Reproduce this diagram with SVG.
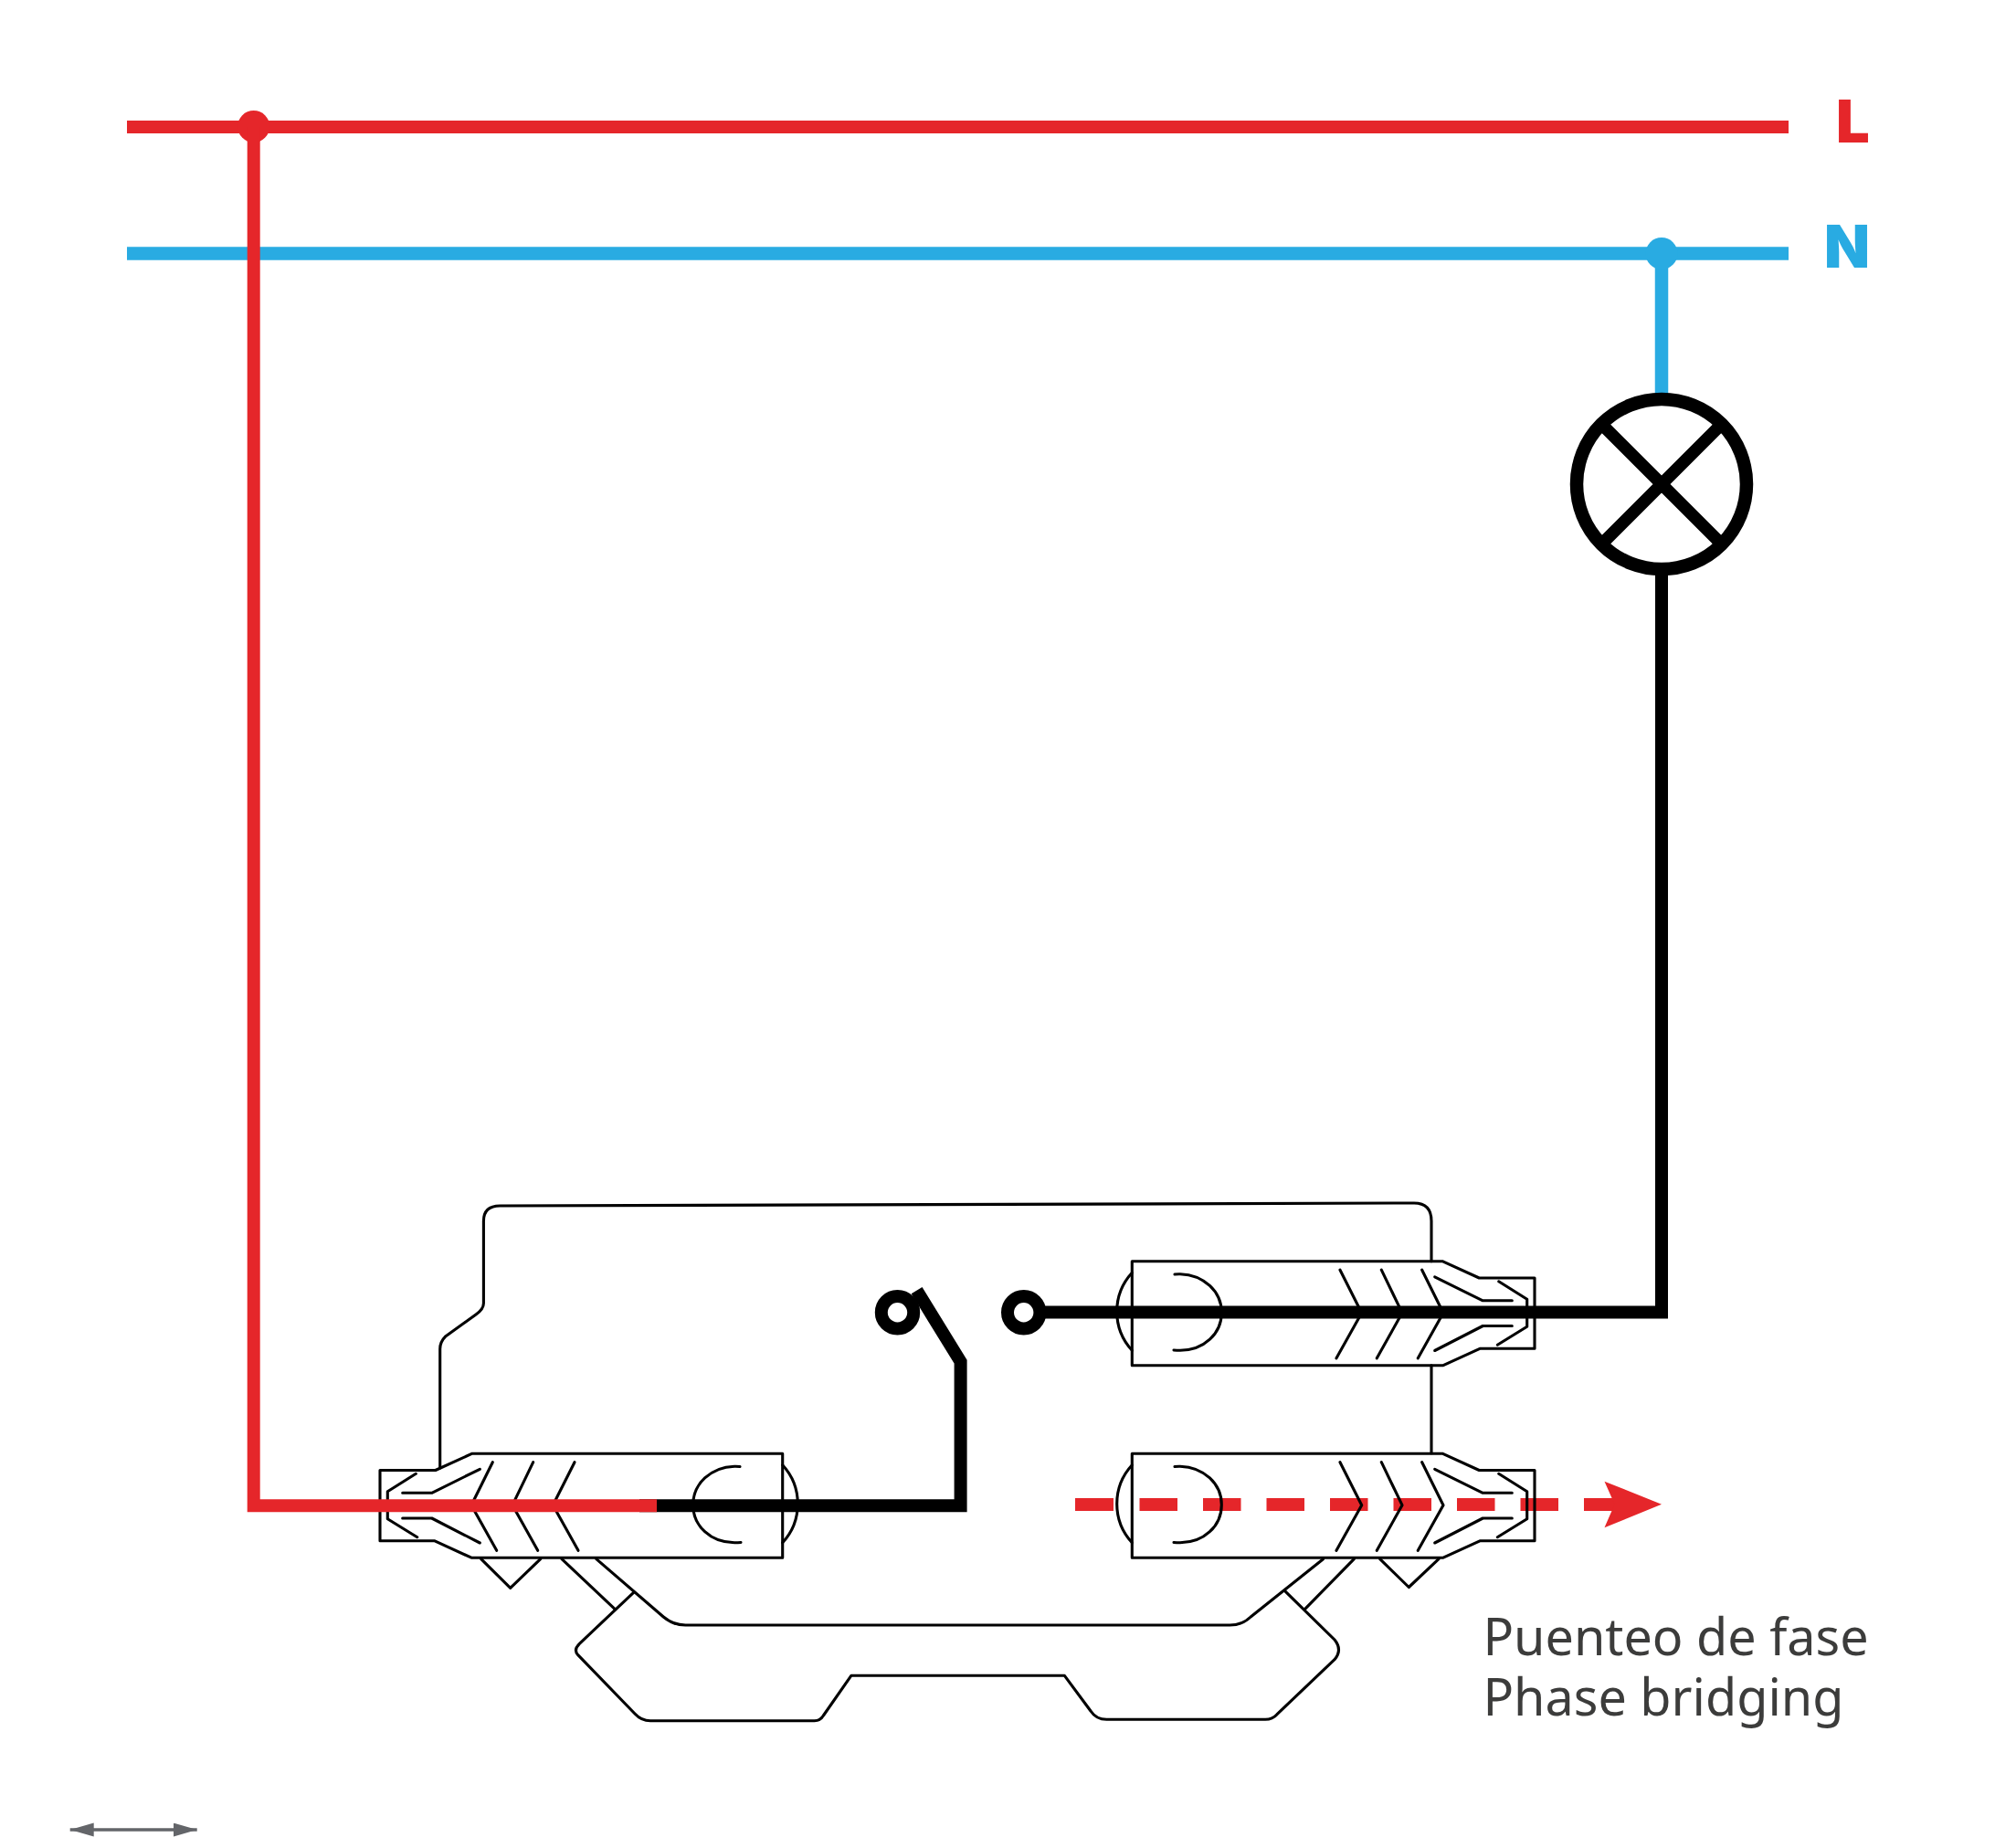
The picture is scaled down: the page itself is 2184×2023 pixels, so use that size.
<svg xmlns="http://www.w3.org/2000/svg" xmlns:xlink="http://www.w3.org/1999/xlink" width="2184" height="2023" viewBox="0 0 2184 2023">
<style>
.thin{fill:none;stroke:#000;stroke-width:3.1;stroke-linecap:round;stroke-linejoin:round}
.red{fill:none;stroke:#e5262a;stroke-width:14}
.blue{fill:none;stroke:#29abe2;stroke-width:14.5}
.blk{fill:none;stroke:#000;stroke-width:14}
.lab{font-family:"Inter","Liberation Sans",sans-serif;font-weight:900;font-size:65px}
.cap{font-family:"Noto Sans","Open Sans",sans-serif;font-size:55.7px;fill:#3c3c3b}
</style>
<defs>
<g id="terminal">
<path class="thin" d="M1239.3 1393.3A62.7 62.7 0 0 0 1239.3 1478.3"/>
<path class="thin" d="M1239.3 1380.7H1579L1619.3 1399H1680V1476.3H1620L1580 1494.7H1239.3Z"/>
<path class="thin" d="M1286 1395Q1289 1394.6 1292 1394.7C1318 1395.5 1337.3 1414 1337.3 1436.7C1337.3 1460 1318 1478.3 1292 1478.3Q1288 1478.3 1285 1478"/>
<path class="thin" d="M1467 1390.2L1490.7 1437.2L1463 1486.8M1512.3 1390.2L1535 1437.2L1507.3 1486.8M1556.7 1390.2L1580 1437.2L1552.3 1486.8"/>
<path class="thin" d="M1570.7 1397.8L1623.3 1423.8H1655.3M1570.7 1478.5L1623.3 1451.5H1655.3M1640.7 1402.8L1671.7 1422.2V1452.2L1639.3 1472.2"/>
</g>
<marker id="hd" markerUnits="userSpaceOnUse" markerWidth="28" markerHeight="16" refX="26" refY="7.5" orient="auto-start-reverse"><path d="M0 0L26 7.5L0 15Z" fill="#636569"/></marker>
</defs>
<rect width="2184" height="2023" fill="#fff"/>
<g id="switch-casing">
<path class="thin" d="M481.7 1607V1476.7Q481.7 1469 488 1462.7L521 1439Q529.4 1433 529.4 1426.7V1336.7Q529.4 1320 547.3 1320L1548 1317Q1567 1317 1567 1336.7V1380.7M1567 1494.7V1590.7"/>
<path class="thin" d="M526.7 1706.7L558.7 1738.3L591.7 1706.7M1510.7 1706.7L1542.3 1737.5L1575 1706.7"/>
</g>
<g id="phase-bridge">
<path class="thin" d="M615 1706.7L673.3 1761.7M652.8 1706.7L726.3 1770Q737 1779 750.4 1779H1346.3Q1360 1779 1369.2 1770L1448.5 1706.7M1482.3 1706.7L1428.4 1761.7"/>
<path class="thin" d="M693.6 1743.3L634.4 1799.3Q627.5 1806 632.7 1811.7L695 1876Q702 1883.7 712 1883.7H891.6Q898 1883.7 901.4 1878L931.8 1834.3H1165.4L1194 1873Q1200 1882.3 1211.4 1882.3H1385.3Q1393 1882.3 1398 1876.7L1461 1816.7Q1470 1806 1461 1795L1406.6 1741.7"/>
</g>
<g id="terminal-left"><use xlink:href="#terminal" href="#terminal" transform="translate(2096 210.5) scale(-1 1)"/></g>
<g id="terminal-top-right"><use xlink:href="#terminal" href="#terminal"/></g>
<g id="connectors">
<path class="blue" d="M139 277.5H1958"/>
<path class="blue" d="M1819 277.5V432"/>
<circle cx="1819" cy="277.5" r="17.5" fill="#29abe2"/>
<path class="red" d="M139 139H1958"/>
<circle cx="277.7" cy="138.5" r="17.5" fill="#e5262a"/>
<path class="blk" d="M1819 628V1436.5H1135"/>
<path class="blk" d="M1003.6 1412.7L1051.6 1490.7V1648.3H700"/>
<path class="red" d="M277.7 139V1648.3H719"/>
<path d="M1177 1647H1770" fill="none" stroke="#e5262a" stroke-width="14" stroke-dasharray="42 28.5 41.5 28 41.5 28 41.5 28 41.5 28 41.5 28 41.5 28 41.5 28 41.5 28"/>
<path d="M1756.5 1621.7L1819 1646.7L1756.5 1672.3L1767.6 1646.7Z" fill="#e5262a"/>
</g>
<g id="terminal-bottom-right"><use xlink:href="#terminal" href="#terminal" transform="translate(0 210.5)"/></g>
<g id="contact-left"><circle cx="982.5" cy="1436.7" r="17.7" fill="#fff" stroke="#000" stroke-width="14"/></g>
<g id="contact-right"><circle cx="1120.7" cy="1436.7" r="17.7" fill="#fff" stroke="#000" stroke-width="14"/></g>
<g id="lamp">
<circle cx="1819" cy="530" r="93" fill="#fff" stroke="#000" stroke-width="14.5"/>
<path d="M1753 464L1885 596M1885 464L1753 596" fill="none" stroke="#000" stroke-width="13.5"/>
</g>
<g id="label-L"><text class="lab" x="2010" y="155.8" fill="#e5262a">L</text></g>
<g id="label-N"><text class="lab" x="1997" y="293" fill="#29abe2">N</text></g>
<g id="caption">
<text class="cap" x="1623.4" y="1811.7">Puenteo de fase</text>
<text class="cap" x="1623.4" y="1878">Phase bridging</text>
</g>
<g id="scale-arrow"><path d="M76.7 2003H215.7" stroke="#636569" stroke-width="3.4" fill="none" marker-start="url(#hd)" marker-end="url(#hd)"/></g>
</svg>
